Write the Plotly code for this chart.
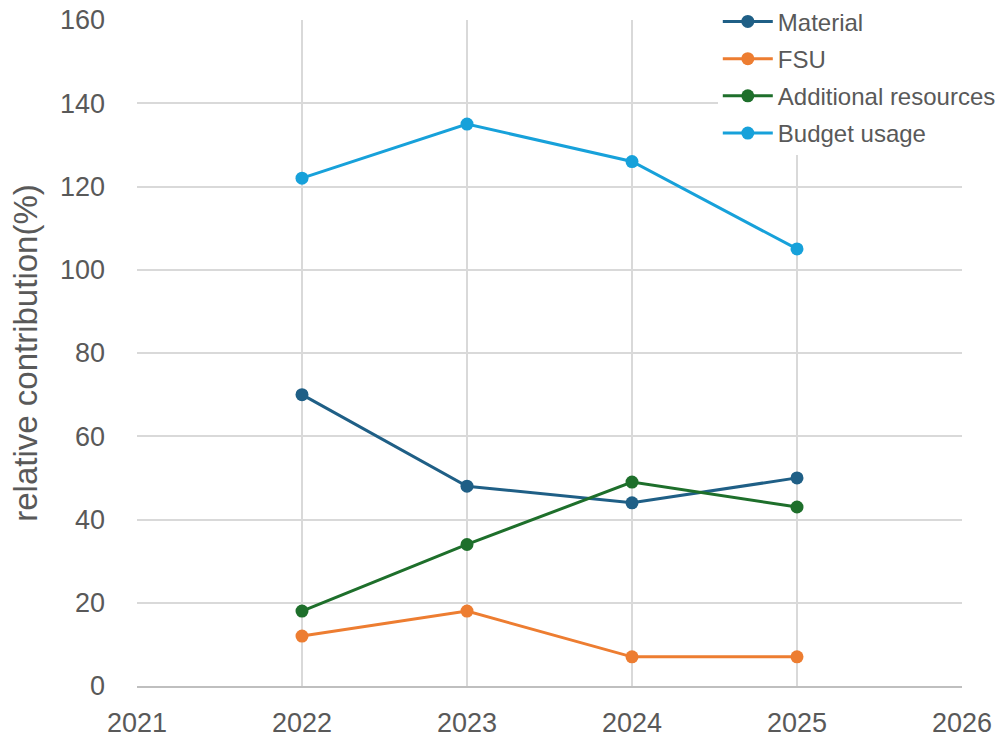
import plotly.graph_objects as go

years = [2022, 2023, 2024, 2025]
material = [70, 48, 44, 50]
fsu = [12, 18, 7, 7]
additional = [18, 34, 49, 43]
budget = [122, 135, 126, 105]

names = ["Material", "FSU", "Additional resources", "Budget usage"]
series = [material, fsu, additional, budget]
colors = ["#1F5F86", "#ED7D31", "#1E6F2B", "#17A1DA"]

fig = go.Figure()
for i, (n, s, c) in enumerate(zip(names, series, colors)):
    fig.add_trace(go.Scatter(
        x=years, y=s, name=n, mode="lines+markers",
        line=dict(color=c, width=3), marker=dict(color=c, size=13),
        legendgroup=f"g{i}",
    ))

fig.update_layout(
    width=999, height=742,
    margin=dict(l=137, r=37, t=20, b=56, autoexpand=False),
    paper_bgcolor="white", plot_bgcolor="white",
    font=dict(family="Liberation Sans, Arial, sans-serif", color="#595959"),
    showlegend=True,
    legend=dict(
        x=0.704, y=1.031, xanchor="left", yanchor="top",
        bgcolor="white", font=dict(size=24, color="#595959"),
        tracegroupgap=3, itemwidth=50,
    ),
    xaxis=dict(
        range=[2021, 2026], dtick=1, tick0=2021,
        showgrid=True, gridcolor="#D9D9D9", gridwidth=1.5,
        showline=True, linecolor="#BFBFBF", linewidth=2,
        zeroline=False, tickfont=dict(size=27, color="#595959"),
        ticks="", ticklabelstandoff=12,
    ),
    yaxis=dict(
        range=[0, 160], dtick=20,
        showgrid=True, gridcolor="#D9D9D9", gridwidth=1.5,
        showline=False, zeroline=False,
        tickfont=dict(size=27, color="#595959"),
        title=dict(text="relative contribution(%)", font=dict(size=33, color="#595959"), standoff=12),
        ticks="", ticklabelstandoff=31,
    ),
)

fig.write_html("out.html", config={"displayModeBar": False},
               post_script="document.body.style.margin='0';document.body.style.overflow='hidden';")
